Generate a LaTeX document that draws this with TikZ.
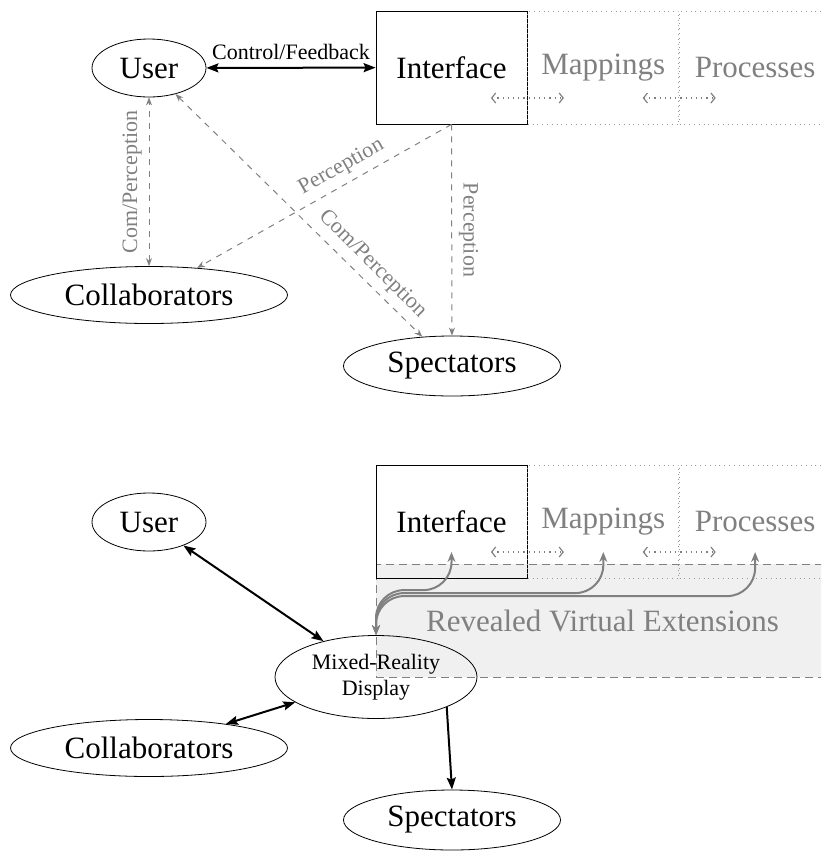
\documentclass[tikz,border=0pt]{standalone}
\usepackage{fontspec}
\setmainfont{Liberation Serif}
\usetikzlibrary{arrows.meta,shapes.geometric,calc}

\begin{document}
\begin{tikzpicture}[x=0.5pt,y=0.5pt,yscale=-1,
    big/.style={font=\fontsize{15.5}{18}\selectfont},
    actor/.style={draw,ellipse,inner sep=0pt,big},
    ibox/.style={draw,rectangle,minimum width=75.5pt,minimum height=56.5pt,inner sep=0pt,big},
    vbox/.style={ibox,draw=gray!80,dotted,text=gray},
    reveal/.style={draw=gray,dash pattern=on 4pt off 2.5pt,fill=gray!12,text=gray,big,
      minimum width=226.5pt,minimum height=56.5pt,inner sep=0pt},
    lbl/.style={font=\fontsize{11}{13}\selectfont,text=gray},
    ctl/.style={line width=1pt,>={Stealth[length=6pt,width=4.5pt,inset=1pt]}},
    per/.style={gray,dashed,line width=0.5pt,>={Stealth[length=4pt,width=3pt]}},
    link/.style={gray,dotted,line width=0.6pt,>={Straight Barb[length=2pt,width=5pt]}},
    vlink/.style={gray,line width=1pt,rounded corners=14pt,>={Stealth[length=5pt,width=4pt]}},
  ]
  \useasboundingbox (0,0) rectangle (821,852);
  \clip (0,0) rectangle (821,852);

  % upper view: without display
  \node[actor,minimum width=57pt,minimum height=29pt] (user) at (149,68) {User};
  \node[ibox] (iface) at (451.5,67.5) {Interface};
  \node[vbox,anchor=west] (map) at (iface.east) {Mappings};
  \node[vbox,anchor=west] (proc) at (map.east) {Processes};
  \node[actor,minimum width=138.5pt,minimum height=28.5pt] (coll) at (149,295) {Collaborators};
  \node[actor,minimum width=108.5pt,minimum height=30pt] (spec) at (452,366) {Spectators};

  \draw[ctl,<->] (user) -- (iface) node[midway,above,lbl,text=black] {Control/Feedback};
  \draw[per,<->] (coll) -- (user) node[midway,rotate=90,anchor=south,lbl] {Com/Perception};
  \draw[per,<->] (user) -- (spec) node[pos=0.75,rotate=-45,anchor=south,lbl] {Com/Perception};
  \draw[per,->] (iface.south) -- (coll) node[pos=0.4,rotate=29.4,anchor=south,lbl] {Perception};
  \draw[per,->] (iface.south) -- (spec) node[midway,rotate=-90,anchor=south,lbl] {Perception};
  \draw[link,<->] ($(map.west)+(-36.5,30.5)$) -- ($(map.west)+(36.5,30.5)$);
  \draw[link,<->] ($(proc.west)+(-36.5,30.5)$) -- ($(proc.west)+(36.5,30.5)$);

  % lower view: with mixed-reality display
  \node[reveal] (reveal) at (602.5,620.5) {Revealed Virtual Extensions};
  \node[actor,minimum width=57pt,minimum height=29pt] (user2) at (149,522) {User};
  \node[ibox] (iface2) at (451.5,521.5) {Interface};
  \node[vbox,anchor=west] (map2) at (iface2.east) {Mappings};
  \node[vbox,anchor=west] (proc2) at (map2.east) {Processes};
  \node[actor,font=\fontsize{11}{13}\selectfont,align=center,minimum width=101pt,minimum height=41.5pt] (mr) at (376,677) {Mixed-Reality\\Display};
  \node[actor,minimum width=138.5pt,minimum height=28.5pt] (coll2) at (149,748) {Collaborators};
  \node[actor,minimum width=108.5pt,minimum height=30pt] (spec2) at (452,820) {Spectators};

  \draw[ctl,<->] (user2) -- (mr);
  \draw[ctl,<->] (coll2) -- (mr);
  \draw[ctl,->] (mr.-23) -- (spec2.north);
  \draw[link,<->] ($(map2.west)+(-36.5,30.5)$) -- ($(map2.west)+(36.5,30.5)$);
  \draw[link,<->] ($(proc2.west)+(-36.5,30.5)$) -- ($(proc2.west)+(36.5,30.5)$);
  \draw[vlink,<->] (mr.north) -- ++(0,-45) -| ($(iface2.center)+(0,30.5)$);
  \draw[vlink,<->] (mr.north) -- ++(0,-42) -| ($(map2.center)+(0,30.5)$);
  \draw[vlink,<->] (mr.north) -- ++(0,-39) -| ($(proc2.center)+(0,30.5)$);
\end{tikzpicture}
\end{document}
